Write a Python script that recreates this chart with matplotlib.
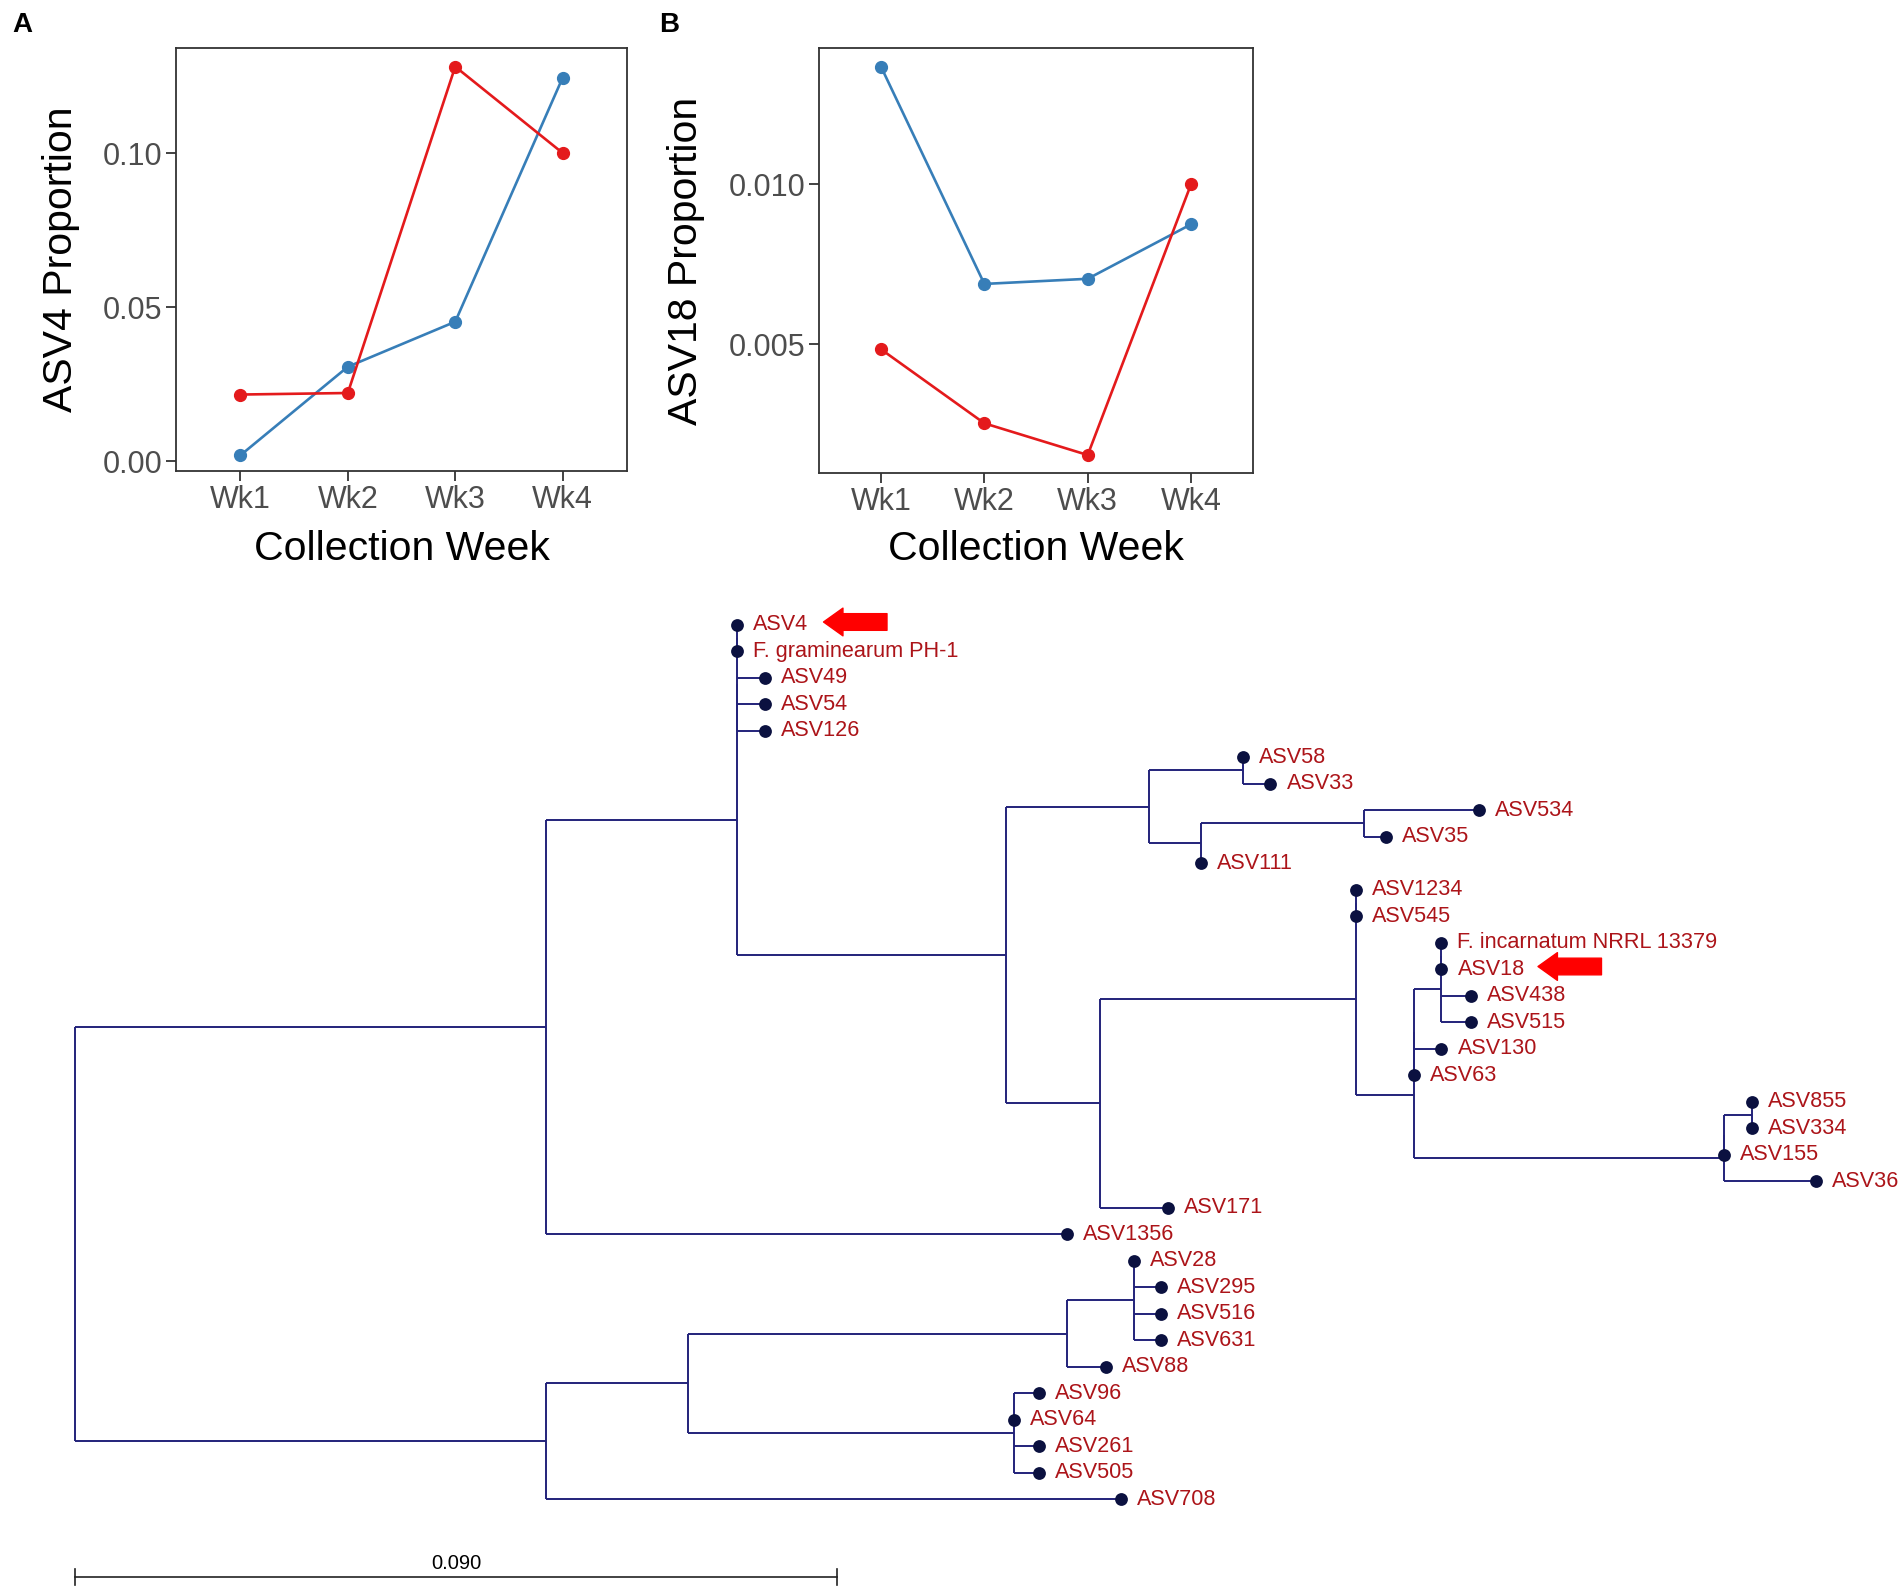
import matplotlib
matplotlib.use("Agg")
import matplotlib.pyplot as plt

plt.rcParams["font.family"] = ["Liberation Sans", "DejaVu Sans"]

# ---- panel data ----
weeks = ["Wk1", "Wk2", "Wk3", "Wk4"]

asv4_red = [0.0217, 0.0222, 0.1280, 0.1000]
asv4_blue = [0.0020, 0.0307, 0.0453, 0.1244]

asv18_red = [0.00485, 0.00254, 0.00155, 0.01000]
asv18_blue = [0.01367, 0.00689, 0.00705, 0.00875]

RED = "#E41A1C"
BLUE = "#377EB8"

# ---- tree (newick, branch lengths in substitutions/site) ----
clade_a7 = "(('F. incarnatum NRRL 13379':0,ASV18:0):0,ASV438:0.0035,ASV515:0.0035)"
clade_a8 = "(((ASV855:0,ASV334:0):0.0033,ASV155:0):0,ASV36:0.0108)"
clade_a6 = "((" + clade_a7 + ":0.0033,ASV130:0.0033,ASV63:0):0," + clade_a8 + ":0.0367)"
clade_a5 = "((ASV1234:0,ASV545:0):0," + clade_a6 + ":0.0068)"
clade_a4 = "(" + clade_a5 + ":0.0302,ASV171:0.0080)"
clade_a3 = "((ASV58:0,ASV33:0.0033):0.0111,((ASV534:0.0136,ASV35:0.0027):0.0192,ASV111:0):0.0062)"
clade_s = "(('ASV4':0,'F. graminearum PH-1':0):0,ASV49:0.0033,ASV54:0.0033,ASV126:0.0033)"
clade_a1 = "(" + clade_s + ":0,(" + clade_a3 + ":0.0169," + clade_a4 + ":0.0112):0.0317)"
clade_a = "(" + clade_a1 + ":0.0226,ASV1356:0.0616)"
clade_b2 = "((ASV28:0,ASV295:0.0032,ASV516:0.0032,ASV631:0.0032):0.0079,ASV88:0.0046)"
clade_b3 = "(ASV96:0.0030,ASV64:0,ASV261:0.0030,ASV505:0.0030)"
clade_b = "((" + clade_b2 + ":0.0448," + clade_b3 + ":0.0385):0.0168,ASV708:0.0679)"
NEWICK = "(" + clade_a + ":0.0556," + clade_b + ":0.0556);"

highlighted = ["ASV4", "ASV18"]
scale_length = 0.090


def parse_newick(s):
    s = s.strip().rstrip(";")
    pos = 0

    def node():
        nonlocal pos
        n = {"name": "", "length": 0.0, "children": []}
        if s[pos] == "(":
            pos += 1
            while True:
                n["children"].append(node())
                if s[pos] == ",":
                    pos += 1
                else:
                    pos += 1  # ')'
                    break
        if pos < len(s) and s[pos] == "'":
            end = s.index("'", pos + 1)
            n["name"] = s[pos + 1:end]
            pos = end + 1
        else:
            start = pos
            while pos < len(s) and s[pos] not in ":,)":
                pos += 1
            n["name"] = s[start:pos]
        if pos < len(s) and s[pos] == ":":
            pos += 1
            start = pos
            while pos < len(s) and s[pos] not in ",)":
                pos += 1
            n["length"] = float(s[start:pos])
        return n

    return node()


def layout(n, x0, tips):
    n["x"] = x0 + n["length"]
    if not n["children"]:
        n["y"] = len(tips)
        tips.append(n)
    else:
        for c in n["children"]:
            layout(c, n["x"], tips)
        n["y"] = (n["children"][0]["y"] + n["children"][-1]["y"]) / 2


tree = parse_newick(NEWICK)
tips = []
layout(tree, 0.0, tips)

# ---- figure ----
fig = plt.figure(figsize=(19.02, 15.93), dpi=100)

ax_tree = fig.add_axes([0, 0, 1, 1])
ax_tree.set_xlim(-0.00888, 0.2158)
ax_tree.set_ylim(36.54, -23.57)
ax_tree.axis("off")
ax_tree.patch.set_alpha(0)

BRANCH = "#23237A"
DOT = "#0B1140"
LABEL = "#AC1419"


def draw(n):
    if not n["children"]:
        return
    ys = [c["y"] for c in n["children"]]
    ax_tree.plot([n["x"], n["x"]], [min(ys), max(ys)], color=BRANCH, lw=1.4,
                 solid_capstyle="butt", zorder=1)
    for c in n["children"]:
        if c["x"] > n["x"]:
            ax_tree.plot([n["x"], c["x"]], [c["y"], c["y"]], color=BRANCH, lw=1.4,
                         solid_capstyle="butt", zorder=1)
        draw(c)


draw(tree)

ax_tree.scatter([t["x"] for t in tips], [t["y"] for t in tips], s=85, color=DOT,
                zorder=3, linewidths=0)
for t in tips:
    ax_tree.annotate(t["name"], (t["x"], t["y"]), xytext=(11.5, 0),
                     textcoords="offset points", ha="left", va="center",
                     fontsize=15.6, color=LABEL)

# red arrows pointing at the highlighted ASVs
for name in highlighted:
    t = [tp for tp in tips if tp["name"] == name][0]
    head = t["x"] + 0.0102 if name == "ASV4" else t["x"] + 0.0114
    ax_tree.annotate("", xy=(head, t["y"] - 0.1), xytext=(head + 0.0075, t["y"] - 0.1),
                     arrowprops=dict(arrowstyle="simple,head_length=0.7,head_width=1.0,tail_width=0.6",
                                     color="red", mutation_scale=20, shrinkA=0, shrinkB=0))

# scale bar
bar_y = 35.93
ax_tree.plot([0, scale_length], [bar_y, bar_y], color="#222222", lw=1.2)
for xe in [0, scale_length]:
    ax_tree.plot([xe, xe], [bar_y - 0.3, bar_y + 0.3], color="#222222", lw=1.2)
ax_tree.annotate(f"{scale_length:.3f}", (scale_length / 2, bar_y), xytext=(0, 3),
                 textcoords="offset points", ha="center", va="bottom", fontsize=14.5)

# ---- line panels ----
axA = fig.add_axes([0.0925, 0.7043, 0.2372, 0.2653])
axB = fig.add_axes([0.4306, 0.7031, 0.2282, 0.2665])

x = [1, 2, 3, 4]
panels = [
    (axA, asv4_red, asv4_blue, "ASV4 Proportion", [0.00, 0.05, 0.10], "{:.2f}",
     (-0.0031, 0.1339), -0.213, -0.14),
    (axB, asv18_red, asv18_blue, "ASV18 Proportion", [0.005, 0.010], "{:.3f}",
     (0.00099, 0.01424), -0.263, -0.134),
]

for ax, red, blue, ylab, yticks, fmt, ylim, ylx, xly in panels:
    ax.plot(x, blue, color=BLUE, lw=1.9, marker="o", markersize=8.5, zorder=2)
    ax.plot(x, red, color=RED, lw=1.9, marker="o", markersize=8.5, zorder=3)
    ax.set_xlim(0.4, 4.6)
    ax.set_ylim(*ylim)
    ax.set_xticks(x)
    ax.set_xticklabels(weeks)
    ax.set_yticks(yticks)
    ax.set_yticklabels([fmt.format(v) for v in yticks])
    ax.tick_params(axis="both", direction="out", length=7, width=1.3, color="#333333",
                   labelsize=22, labelcolor="#4D4D4D", pad=3)
    for sp in ax.spines.values():
        sp.set_linewidth(1.3)
        sp.set_color("#333333")
    ax.set_ylabel(ylab, fontsize=29.5)
    ax.set_xlabel("Collection Week", fontsize=29.5, va="top")
    ax.yaxis.set_label_coords(ylx, 0.5)
    ax.xaxis.set_label_coords(0.5, xly)

fig.text(12 / 1902, 1 - 12 / 1593, "A", fontsize=20, fontweight="bold", ha="left", va="top")
fig.text(659 / 1902, 1 - 12 / 1593, "B", fontsize=20, fontweight="bold", ha="left", va="top")

fig.savefig("out.png", dpi=100)
print("Saved out.png")
